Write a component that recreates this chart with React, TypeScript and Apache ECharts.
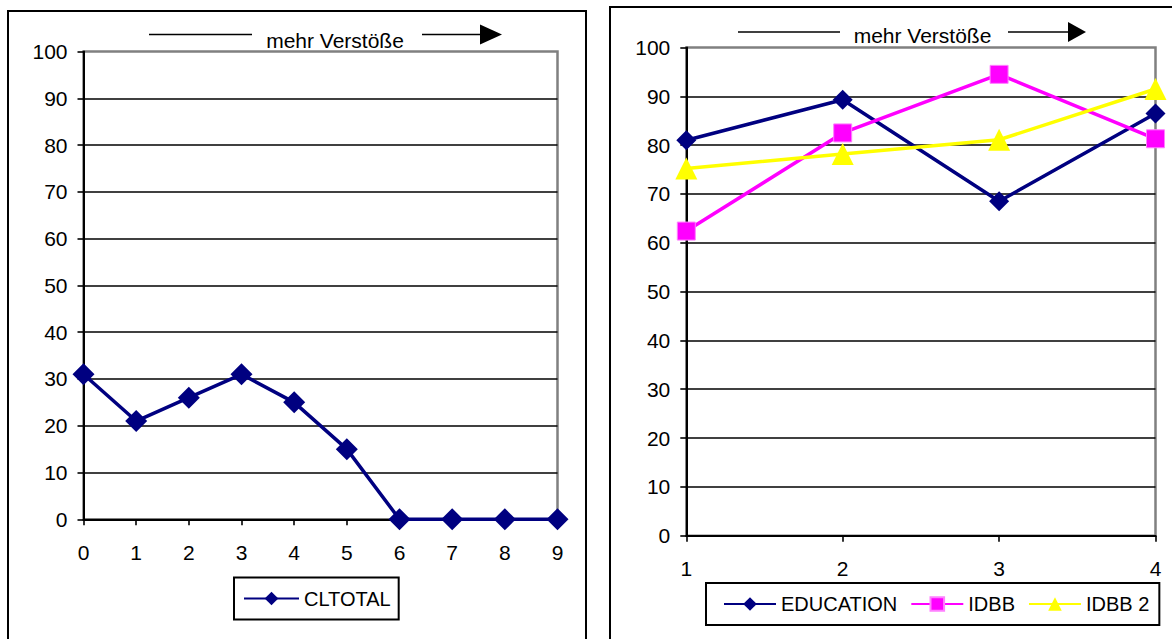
import React, { useEffect, useRef } from "react";
import * as echarts from "echarts";

const leftCategories = ["0", "1", "2", "3", "4", "5", "6", "7", "8", "9"];
const cltotal = [31, 21, 26, 31, 25, 15, 0, 0, 0, 0];

const rightCategories = ["1", "2", "3", "4"];
const education = [81, 89.3, 68.5, 86.5];
const idbb = [62.4, 82.5, 94.5, 81.3];
const idbb2 = [75.2, 78.2, 81.1, 91.5];

const titleText = "mehr Verstöße";
const FONT = "'Liberation Sans', Arial, sans-serif";

export default function App() {
  const ref = useRef<HTMLDivElement>(null);
  useEffect(() => {
    if (!ref.current) return;
    const chart = echarts.init(ref.current, undefined, { renderer: "svg" });
    const yAxisCommon = (gridIndex: number) => ({
      type: "value",
      gridIndex,
      min: 0,
      max: 100,
      interval: 10,
      axisLine: { show: true, lineStyle: { color: "#000", width: 2 } },
      axisTick: { show: true, length: 6, lineStyle: { color: "#000", width: 1.6 } },
      axisLabel: { color: "#000", fontSize: 21, fontFamily: FONT, margin: 16 },
      splitLine: { show: true, showMaxLine: false, lineStyle: { color: "#000", width: 1.6 } },
    });
    const xAxisCommon = (gridIndex: number, data: string[], margin: number) => ({
      type: "category",
      gridIndex,
      data,
      boundaryGap: false,
      axisLine: { show: true, lineStyle: { color: "#000", width: 2 } },
      axisTick: { show: true, length: 6, alignWithLabel: true, lineStyle: { color: "#000", width: 1.6 } },
      axisLabel: { color: "#000", fontSize: 21, fontFamily: FONT, margin, interval: 0 },
      splitLine: { show: false },
    });
    const legendCommon = {
      orient: "horizontal",
      borderColor: "#000",
      borderWidth: 2,
      backgroundColor: "#fff",
      itemHeight: 17,
      textStyle: { color: "#000", fontSize: 20, fontFamily: FONT, lineHeight: 22 },
    };
    const arrow = (x1: number, x2: number, tx: number, x3: number, x4: number, tip: number, y: number, ty: number) => [
      { type: "line", shape: { x1, y1: y, x2, y2: y }, style: { stroke: "#000", lineWidth: 1.5 } },
      {
        type: "text",
        x: tx,
        y: ty,
        style: { text: titleText, fill: "#000", font: `21px ${FONT}`, textAlign: "center", textVerticalAlign: "middle" },
      },
      { type: "line", shape: { x1: x3, y1: y, x2: x4, y2: y }, style: { stroke: "#000", lineWidth: 1.5 } },
      {
        type: "polygon",
        shape: { points: [[x4, y - 10], [tip, y], [x4, y + 10]] },
        style: { fill: "#000" },
      },
    ];
    chart.setOption({
      animation: false,
      backgroundColor: "#fff",
      grid: [
        { left: 83.5, right: 614.5, top: 51.5, bottom: 119.7, show: true, borderColor: "#808080", borderWidth: 2.5 },
        { left: 686.3, right: 16.5, top: 47.5, bottom: 103.3, show: true, borderColor: "#808080", borderWidth: 2.5 },
      ],
      xAxis: [xAxisCommon(0, leftCategories, 23), xAxisCommon(1, rightCategories, 22)],
      yAxis: [yAxisCommon(0), yAxisCommon(1)],
      legend: [
        {
          ...legendCommon,
          data: ["CLTOTAL"],
          left: 234,
          top: 577.5,
          itemWidth: 55,
          padding: [10, 8, 10, 9],
        },
        {
          ...legendCommon,
          data: ["EDUCATION", "IDBB", "IDBB 2"],
          left: 706,
          top: 583,
          itemWidth: 52,
          itemGap: 13,
          padding: [10, 10, 10, 17],
        },
      ],
      graphic: [
        {
          type: "rect",
          shape: { x: 8, y: 11, width: 578, height: 640 },
          style: { fill: "none", stroke: "#000", lineWidth: 2 },
          z: -1,
        },
        {
          type: "rect",
          shape: { x: 610, y: 7, width: 600, height: 640 },
          style: { fill: "none", stroke: "#000", lineWidth: 2 },
          z: -1,
        },
        ...arrow(149, 252, 335, 422, 480, 502, 34.5, 40),
        ...arrow(738, 840, 922.5, 1008, 1068, 1086, 32, 35.5),
      ],
      series: [
        {
          name: "CLTOTAL",
          type: "line",
          xAxisIndex: 0,
          yAxisIndex: 0,
          data: cltotal,
          symbol: "diamond",
          symbolSize: 22,
          lineStyle: { color: "#000080", width: 3.5 },
          itemStyle: { color: "#000080" },
        },
        {
          name: "EDUCATION",
          type: "line",
          xAxisIndex: 1,
          yAxisIndex: 1,
          data: education,
          symbol: "diamond",
          symbolSize: 20,
          lineStyle: { color: "#000080", width: 3.5 },
          itemStyle: { color: "#000080" },
        },
        {
          name: "IDBB",
          type: "line",
          xAxisIndex: 1,
          yAxisIndex: 1,
          data: idbb,
          symbol: "rect",
          symbolSize: 18,
          lineStyle: { color: "#ff00ff", width: 3.5 },
          itemStyle: { color: "#ff00ff", borderColor: "#ff80ff", borderWidth: 1 },
        },
        {
          name: "IDBB 2",
          type: "line",
          xAxisIndex: 1,
          yAxisIndex: 1,
          data: idbb2,
          symbol: "triangle",
          symbolSize: 22,
          lineStyle: { color: "#ffff00", width: 3.5 },
          itemStyle: { color: "#ffff00" },
        },
      ],
    });
    return () => chart.dispose();
  }, []);
  return (
    <div
      ref={ref}
      style={{ position: "absolute", left: 0, top: 0, width: 1172, height: 639 }}
    />
  );
}
